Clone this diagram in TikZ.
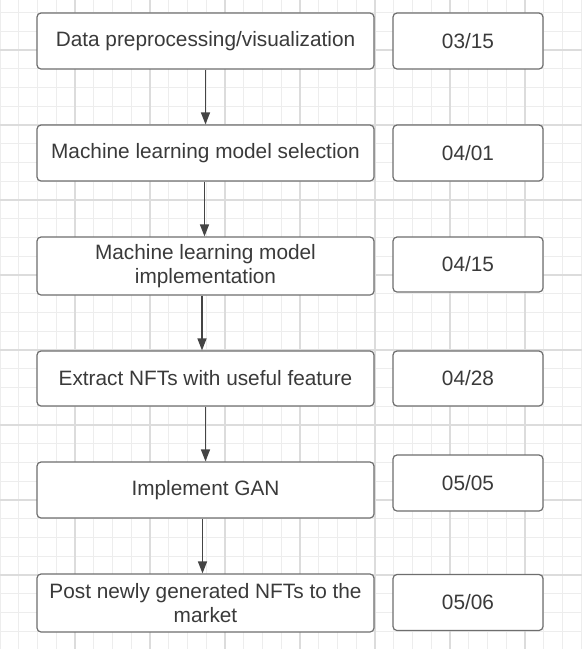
\documentclass[tikz,border=0pt]{standalone}
\usepackage{fontspec}
\setmainfont{Liberation Sans}
\usepackage{tikz}
\usetikzlibrary{arrows.meta, positioning, calc}
\definecolor{gridMinor}{HTML}{EDEDED}
\definecolor{gridMajor}{HTML}{DCDCDC}
\definecolor{boxLine}{HTML}{6E6E6E}
\definecolor{textGrey}{HTML}{3A3A3A}
\definecolor{arrowGrey}{HTML}{444444}

\tikzset{
    taskbox/.style={draw=boxLine, fill=white, line width=1.2pt, rounded corners=4pt,
        minimum width=337pt, inner sep=0pt, align=center, text=textGrey,
        font=\fontsize{20.8}{24}\selectfont},
    datebox/.style={taskbox, minimum width=150pt, minimum height=56pt},
    flow/.style={draw=arrowGrey, line width=1.3pt, -{Triangle[length=12pt, width=9pt]}}
}

\begin{document}
\begin{tikzpicture}[x=1pt, y=-1pt]
        \useasboundingbox (0,0) rectangle (582,649);
        \fill[white] (0,0) rectangle (582,649);

        % Grid background
        \foreach \i in {0,...,31} {
            \draw[gridMinor, line width=0.8pt] (18.75*\i, 0) -- (18.75*\i, 649);
        }
        \foreach \j in {0,...,34} {
            \draw[gridMinor, line width=0.8pt] (0, 12.5+18.75*\j) -- (582, 12.5+18.75*\j);
        }
        \foreach \i in {1,...,7} {
            \draw[gridMajor, line width=1.2pt] (75*\i, 0) -- (75*\i, 649);
        }
        \foreach \j in {0,...,8} {
            \draw[gridMajor, line width=1.2pt] (0, 50+75*\j) -- (582, 50+75*\j);
        }

        % Tasks
        \node[taskbox, minimum height=56pt] (prep) at (205.5, 41) {Data preprocessing/visualization};
        \node[taskbox, minimum height=56pt] (select) at (205.5, 153) {Machine learning model selection};
        \node[taskbox, minimum height=58pt] (impl) at (205.5, 266) {Machine learning model\\implementation};
        \node[taskbox, minimum height=55pt] (extract) at (205.5, 378.5) {Extract NFTs with useful feature};
        \node[taskbox, minimum height=56pt] (gan) at (205.5, 490) {Implement GAN};
        \node[taskbox, minimum height=58pt] (post) at (205.5, 603) {Post newly generated NFTs to the\\market};

        % Dates
        \node[datebox] (d1) at (468, 41) {03/15};
        \node[datebox] (d2) at (468, 153) {04/01};
        \node[datebox, minimum height=55pt] (d3) at (468, 264.5) {04/15};
        \node[datebox, minimum height=55pt] (d4) at (468, 378.5) {04/28};
        \node[datebox] (d5) at (468, 483) {05/05};
        \node[datebox] (d6) at (468, 602.5) {05/06};

        % Arrows
        \draw[flow] ([xshift=0pt]prep.south) -- ([xshift=0pt]select.north);
        \draw[flow] ([xshift=-1pt]select.south) -- ([xshift=-1pt]impl.north);
        \draw[flow] ([xshift=-3.5pt]impl.south) -- ([xshift=-3.5pt]extract.north);
        \draw[flow] ([xshift=0pt]extract.south) -- ([xshift=0pt]gan.north);
        \draw[flow] ([xshift=-3pt]gan.south) -- ([xshift=-3pt]post.north);
    \end{tikzpicture}
\end{document}
